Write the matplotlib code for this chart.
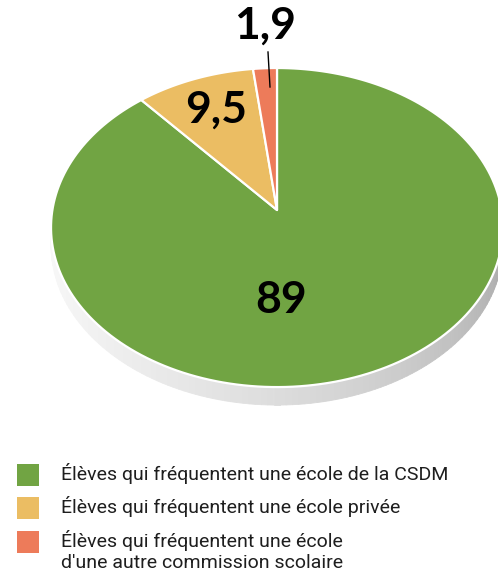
import numpy as np
import matplotlib
matplotlib.use("Agg")
from matplotlib import pyplot as plt
from matplotlib.patches import Polygon, Rectangle

categories = ["Élèves qui fréquentent une école de la CSDM",
              "Élèves qui fréquentent une école privée",
              "Élèves qui fréquentent une école\nd'une autre commission scolaire"]
values = [89, 9.5, 1.9]
value_labels = ["89", "9,5", "1,9"]
colors = ["#71a443", "#ebbd63", "#ed7b5a"]

# perspective pie geometry (pixels)
cx, cy = 277, 210
A, B, k = 224.6, 157.6, 0.11
depth = 18

def proj(r, t):
    x = r * np.cos(t)
    y = r * np.sin(t)
    w = 1 + k * y
    return cx + A * x / w, cy - B * y / w

fig = plt.figure(figsize=(4.98, 5.78), dpi=100)
ax = fig.add_axes([0, 0, 1, 1])
ax.set_xlim(0, 498)
ax.set_ylim(578, 0)
ax.axis("off")

# side wall with a grey gradient
a0 = np.arcsin(k)
ts = np.linspace(np.pi + a0, 2 * np.pi - a0, 120)
xs, ys = proj(1.0, ts)
for i in range(len(ts) - 1):
    f = i / (len(ts) - 2)
    g = 0.97 - 0.32 * f ** 1.6
    quad = [(xs[i], ys[i]), (xs[i + 1], ys[i + 1]),
            (xs[i + 1], ys[i + 1] + depth), (xs[i], ys[i] + depth)]
    ax.add_patch(Polygon(quad, closed=True, facecolor=(g, g, g), edgecolor=(g, g, g), lw=0.6, zorder=1))

# slices, clockwise from 12 o'clock
total = sum(values)
start = np.pi / 2
for v, c in zip(values, colors):
    end = start - v / total * 2 * np.pi
    t = np.linspace(start, end, 200)
    px, py = proj(1.0, t)
    pts = [(cx, cy)] + list(zip(px, py))
    ax.add_patch(Polygon(pts, closed=True, facecolor=c, edgecolor="white", lw=1.6, zorder=2, joinstyle="round"))
    start = end

# value labels
lab_font = dict(family="Lato", fontweight="bold", fontsize=32, color="black", ha="center", va="center", zorder=5)
ax.text(281, 300, value_labels[0], **lab_font)
ax.text(216, 110, value_labels[1], **lab_font)
ax.text(265, 26, value_labels[2], **lab_font)
ax.plot([268, 270], [52, 87], color="black", lw=1, zorder=5)

# legend
leg_y = [475, 508, 542]
for yy, c, txt in zip(leg_y, colors, categories):
    ax.add_patch(Rectangle((17, yy - 11), 22, 22, facecolor=c, edgecolor="none"))
    ax.text(61, yy - 12, txt, family="Roboto", fontweight="normal", fontsize=14.0,
            color="#1e1e1e", ha="left", va="top", linespacing=1.2)

fig.savefig("out.png", dpi=100)
